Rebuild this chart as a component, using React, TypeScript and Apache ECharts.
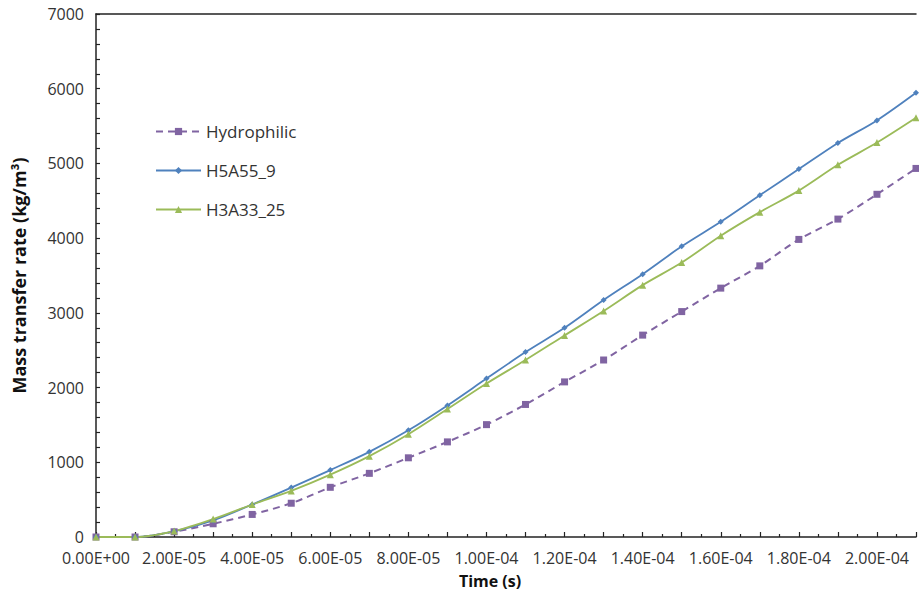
import React, { useEffect, useRef } from "react";
import * as echarts from "echarts";

const times = [
  0, 1e-5, 2e-5, 3e-5, 4e-5, 5e-5, 6e-5, 7e-5, 8e-5, 9e-5, 1.0e-4, 1.1e-4,
  1.2e-4, 1.3e-4, 1.4e-4, 1.5e-4, 1.6e-4, 1.7e-4, 1.8e-4, 1.9e-4, 2.0e-4, 2.1e-4,
];
const hydrophilic = [
  0, 0, 70, 177, 302, 452, 665, 852, 1060, 1273, 1504, 1774, 2076, 2369, 2702,
  3017, 3331, 3629, 3983, 4255, 4587, 4933,
];
const h5a55 = [
  0, 0, 76, 222, 435, 661, 896, 1140, 1428, 1761, 2120, 2475, 2800, 3172, 3518,
  3890, 4219, 4574, 4924, 5274, 5576, 5945,
];
const h3a33 = [
  0, 0, 80, 240, 435, 617, 834, 1082, 1375, 1712, 2054, 2369, 2698, 3025, 3371,
  3673, 4032, 4348, 4636, 4981, 5279, 5612,
];
const seriesNames = ["Hydrophilic", "H5A55_9", "H3A33_25"];
const yTicks = [0, 1000, 2000, 3000, 4000, 5000, 6000, 7000];

const FONT = "'Open Sans', sans-serif";
const TEXT = "#333333";

function sci(v: number): string {
  if (v === 0) return "0.00E+00";
  const e = Math.floor(Math.log10(Math.abs(v)) + 1e-9);
  const m = v / Math.pow(10, e);
  const sign = e < 0 ? "-" : "+";
  const ea = Math.abs(e);
  return m.toFixed(2) + "E" + sign + (ea < 10 ? "0" + ea : String(ea));
}

export default function App() {
  const ref = useRef<HTMLDivElement>(null);
  useEffect(() => {
    if (!ref.current) return;
    const chart = echarts.init(ref.current, null, { renderer: "svg" });
    const mk = (vals: number[]) => times.map((t, i) => [t, vals[i]]);
    chart.setOption({
      animation: false,
      grid: { left: 96, right: 0, top: 14, bottom: 54, containLabel: false },
      legend: {
        orient: "vertical",
        left: 150,
        top: 118,
        itemWidth: 45,
        itemHeight: 9,
        itemGap: 22,
        textStyle: { fontFamily: FONT, fontSize: 17, color: TEXT },
        data: seriesNames,
      },
      xAxis: [
        {
          type: "value",
          min: 0,
          max: 2.1e-4,
          interval: 1e-5,
          name: "Time (s)",
          nameLocation: "middle",
          nameGap: 36,
          nameTextStyle: {
            fontFamily: FONT,
            fontSize: 16,
            fontWeight: "bold",
            color: "#111",
            padding: [0, 32, 0, 0],
          },
          axisLine: { show: true, lineStyle: { color: "#222", width: 1.5 } },
          axisTick: { show: true, inside: true, length: 5, lineStyle: { color: "#222", width: 1.2 } },
          minorTick: { show: true, splitNumber: 2, length: 3, lineStyle: { color: "#222", width: 1.2 } },
          splitLine: { show: false },
          axisLabel: {
            fontFamily: FONT,
            fontSize: 16,
            color: TEXT,
            margin: 13,
            formatter: (v: number) => {
              const k = Math.round(v / 1e-5);
              return k % 2 === 0 ? sci(k * 1e-5) : "";
            },
          },
        },
        {
          type: "value",
          position: "top",
          min: 0,
          max: 2.1e-4,
          axisLine: { show: true, lineStyle: { color: "#222", width: 1.5 } },
          axisTick: { show: false },
          axisLabel: { show: false },
          splitLine: { show: false },
        },
      ],
      yAxis: {
        type: "value",
        min: yTicks[0],
        max: yTicks[yTicks.length - 1],
        interval: 1000,
        name: "Mass transfer rate (kg/m³)",
        nameLocation: "middle",
        nameGap: 68,
        nameTextStyle: { fontFamily: FONT, fontSize: 18, fontWeight: "bold", color: "#111" },
        axisLine: { show: true, lineStyle: { color: "#222", width: 1.5 } },
        axisTick: { show: true, inside: true, length: 4, lineStyle: { color: "#222", width: 1.2 } },
        minorTick: { show: true, splitNumber: 5, length: 4, lineStyle: { color: "#222", width: 1.2 } },
        splitLine: { show: false },
        axisLabel: {
          fontFamily: FONT,
          fontSize: 16,
          color: TEXT,
          margin: 12,
          formatter: (v: number) => String(v),
        },
      },
      series: [
        {
          name: seriesNames[0],
          type: "line",
          data: mk(hydrophilic),
          smooth: 0.3,
          clip: false,
          symbol: "rect",
          symbolSize: 7,
          lineStyle: { color: "#8064A2", width: 2, type: [7, 5] },
          itemStyle: { color: "#8064A2" },
        },
        {
          name: seriesNames[1],
          type: "line",
          data: mk(h5a55),
          smooth: 0.3,
          clip: false,
          symbol: "diamond",
          symbolSize: 6,
          lineStyle: { color: "#4F81BD", width: 1.8 },
          itemStyle: { color: "#4F81BD" },
        },
        {
          name: seriesNames[2],
          type: "line",
          data: mk(h3a33),
          smooth: 0.3,
          clip: false,
          symbol: "triangle",
          symbolSize: 7,
          lineStyle: { color: "#9BBB59", width: 1.8 },
          itemStyle: { color: "#9BBB59" },
        },
      ],
    });
    return () => chart.dispose();
  }, []);
  return <div ref={ref} style={{ width: 919, height: 594, position: "fixed", left: 0, top: 0, background: "#fff" }} />;
}
